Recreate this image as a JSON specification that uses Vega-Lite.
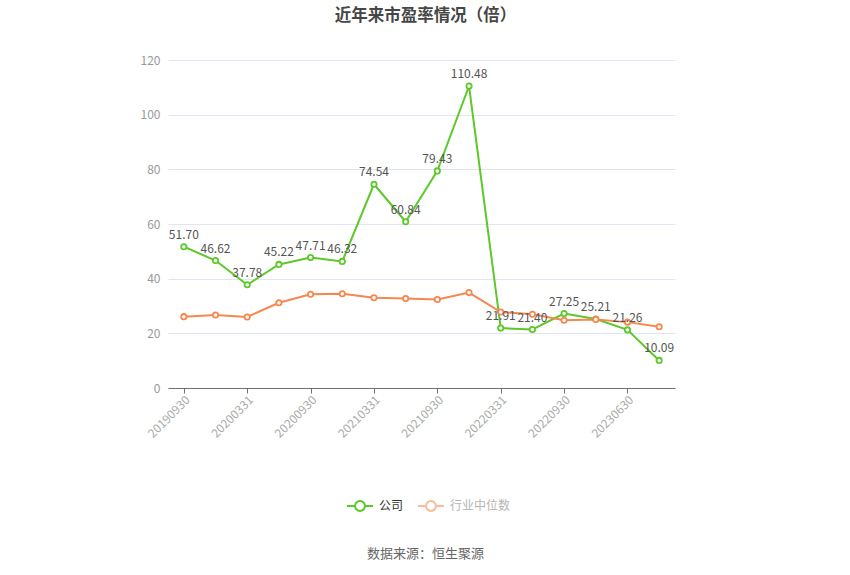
{
  "$schema": "https://vega.github.io/schema/vega-lite/v6.json",
  "autosize": "none",
  "width": 507,
  "height": 328,
  "padding": {"left": 168, "top": 60, "right": 175, "bottom": 187},
  "background": "white",
  "title": {
    "text": "近年来市盈率情况（倍）",
    "fontSize": 16.5,
    "fontWeight": "bold",
    "color": "#464646",
    "font": "Noto Sans CJK SC",
    "anchor": "middle",
    "frame": "group",
    "baseline": "bottom",
    "offset": 14,
    "dx": 4
  },
  "config": {
    "view": {"stroke": null},
    "font": "Noto Sans CJK SC"
  },
  "data": {
    "values": [
      {"date": "20190930", "series": "公司", "value": 51.70},
      {"date": "20191231", "series": "公司", "value": 46.62},
      {"date": "20200331", "series": "公司", "value": 37.78},
      {"date": "20200630", "series": "公司", "value": 45.22},
      {"date": "20200930", "series": "公司", "value": 47.71},
      {"date": "20201231", "series": "公司", "value": 46.32},
      {"date": "20210331", "series": "公司", "value": 74.54},
      {"date": "20210630", "series": "公司", "value": 60.84},
      {"date": "20210930", "series": "公司", "value": 79.43},
      {"date": "20211231", "series": "公司", "value": 110.48},
      {"date": "20220331", "series": "公司", "value": 21.91},
      {"date": "20220630", "series": "公司", "value": 21.40},
      {"date": "20220930", "series": "公司", "value": 27.25},
      {"date": "20221231", "series": "公司", "value": 25.21},
      {"date": "20230630", "series": "公司", "value": 21.26},
      {"date": "20230930", "series": "公司", "value": 10.09},
      {"date": "20190930", "series": "行业中位数", "value": 26.1},
      {"date": "20191231", "series": "行业中位数", "value": 26.7},
      {"date": "20200331", "series": "行业中位数", "value": 26.0},
      {"date": "20200630", "series": "行业中位数", "value": 31.2},
      {"date": "20200930", "series": "行业中位数", "value": 34.3},
      {"date": "20201231", "series": "行业中位数", "value": 34.5},
      {"date": "20210331", "series": "行业中位数", "value": 33.0},
      {"date": "20210630", "series": "行业中位数", "value": 32.7},
      {"date": "20210930", "series": "行业中位数", "value": 32.4},
      {"date": "20211231", "series": "行业中位数", "value": 34.9},
      {"date": "20220331", "series": "行业中位数", "value": 27.8},
      {"date": "20220630", "series": "行业中位数", "value": 27.0},
      {"date": "20220930", "series": "行业中位数", "value": 24.8},
      {"date": "20221231", "series": "行业中位数", "value": 25.1},
      {"date": "20230630", "series": "行业中位数", "value": 24.1},
      {"date": "20230930", "series": "行业中位数", "value": 22.4}
    ]
  },
  "encoding": {
    "x": {
      "field": "date",
      "type": "ordinal",
      "sort": null,
      "scale": {"type": "point", "padding": 0.5},
      "axis": {
        "values": ["20190930", "20200331", "20200930", "20210331", "20210930", "20220331", "20220930", "20230630"],
        "labelAngle": -45,
        "labelAlign": "right",
        "labelBaseline": "top",
        "labelColor": "#aaaaaa",
        "labelFontSize": 12,
        "labelPadding": 1,
        "labelOverlap": false,
        "domainColor": "#6e7079",
        "tickColor": "#6e7079",
        "tickSize": 5,
        "grid": false,
        "title": "数据来源：恒生聚源",
        "titleFontSize": 13,
        "titleFontWeight": "normal",
        "titleColor": "#666666",
        "titleX": 257,
        "titleY": 165,
        "titleBaseline": "middle",
        "titleAlign": "center",
        "titleAnchor": null
      }
    },
    "y": {
      "field": "value",
      "type": "quantitative",
      "scale": {"domain": [0, 120]},
      "axis": {
        "values": [0, 20, 40, 60, 80, 100, 120],
        "title": null,
        "domain": false,
        "ticks": false,
        "labelColor": "#999999",
        "labelFontSize": 12,
        "labelPadding": 8,
        "gridColor": "#e0e6f1",
        "gridWidth": 1
      }
    }
  },
  "layer": [
    {
      "mark": {"type": "line", "strokeWidth": 2},
      "encoding": {
        "stroke": {
          "field": "series",
          "type": "nominal",
          "scale": {"domain": ["公司", "行业中位数"], "range": ["#5cc82a", "#f5874f"]},
          "legend": {
            "orient": "none",
            "legendX": 178,
            "legendY": 432,
            "direction": "horizontal",
            "title": null,
            "symbolType": "M-1,0L-0.38,0M0.38,0L1,0M-0.38,0A0.38,0.38,0,1,1,0.38,0A0.38,0.38,0,1,1,-0.38,0Z",
            "symbolSize": 676,
            "symbolStrokeWidth": 2,
            "symbolFillColor": "white",
            "labelFontSize": 12,
            "labelOffset": 5,
            "columnPadding": 10,
            "encode": {
              "labels": {"update": {"fill": {"signal": "datum.label == '公司' ? '#333333' : '#b5b5b5'"}}},
              "symbols": {"update": {"opacity": {"signal": "datum.label == '公司' ? 1 : 0.55"}}}
            }
          }
        }
      }
    },
    {
      "mark": {"type": "point", "filled": true, "fill": "white", "size": 28, "strokeWidth": 1.8, "opacity": 1},
      "encoding": {
        "stroke": {"field": "series", "type": "nominal"}
      }
    },
    {
      "transform": [{"filter": "datum.series == '公司'"}],
      "mark": {"type": "text", "dy": -12, "fontSize": 12, "color": "#555555"},
      "encoding": {
        "text": {"field": "value", "type": "quantitative", "format": ".2f"}
      }
    }
  ]
}
